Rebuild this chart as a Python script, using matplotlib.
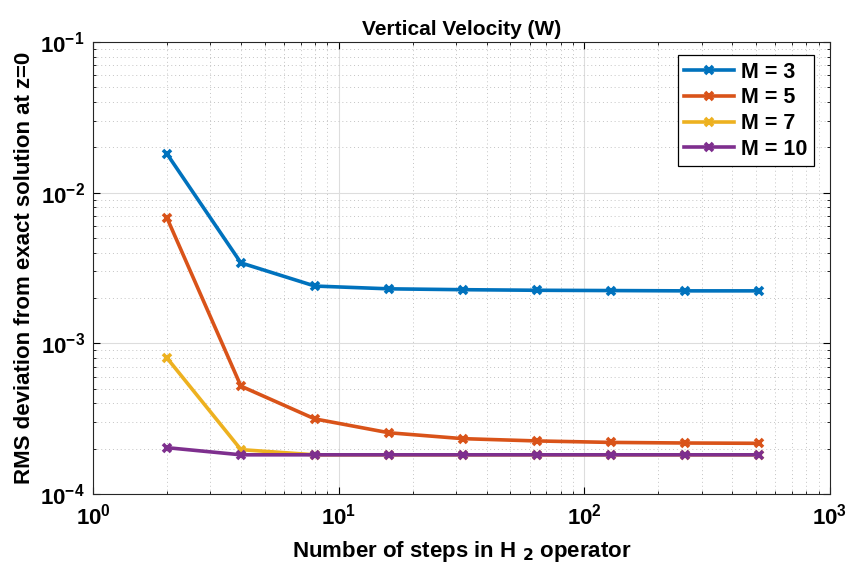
import matplotlib
matplotlib.use("Agg")
import matplotlib.pyplot as plt
from matplotlib.ticker import LogLocator, NullFormatter

plt.rcParams['font.family'] = ['Liberation Sans', 'DejaVu Sans']
plt.rcParams['font.weight'] = 'bold'
plt.rcParams['mathtext.default'] = 'bf'

steps = [2, 4, 8, 16, 32, 64, 128, 256, 512]
rms_m3 = [1.81e-2, 3.42e-3, 2.40e-3, 2.30e-3, 2.27e-3, 2.25e-3, 2.24e-3, 2.23e-3, 2.23e-3]
rms_m5 = [6.8e-3, 5.2e-4, 3.15e-4, 2.55e-4, 2.33e-4, 2.25e-4, 2.2e-4, 2.18e-4, 2.17e-4]
rms_m7 = [8.0e-4, 1.97e-4, 1.82e-4, 1.82e-4, 1.82e-4, 1.82e-4, 1.82e-4, 1.82e-4, 1.82e-4]
rms_m10 = [2.03e-4, 1.82e-4, 1.82e-4, 1.82e-4, 1.82e-4, 1.82e-4, 1.82e-4, 1.82e-4, 1.82e-4]
labels = ['M = 3', 'M = 5', 'M = 7', 'M = 10']
colors = ['#0072BD', '#D95319', '#EDB120', '#7E2F8E']

fig = plt.figure(figsize=(8.5, 5.76), dpi=100)
ax = fig.add_axes([93 / 850, 1 - 494 / 576, 737 / 850, 452 / 576])

for ys, lab, c in zip([rms_m3, rms_m5, rms_m7, rms_m10], labels, colors):
    ax.plot(steps, ys, color=c, lw=2.6, marker='x', ms=6, mew=2.6, label=lab)

ax.set_xscale('log')
ax.set_yscale('log')
ax.set_xlim(1, 1000)
ax.set_ylim(1e-4, 1e-1)
ax.xaxis.set_minor_locator(LogLocator(base=10, subs=range(2, 10), numticks=20))
ax.yaxis.set_minor_locator(LogLocator(base=10, subs=range(2, 10), numticks=20))
ax.xaxis.set_minor_formatter(NullFormatter())
ax.yaxis.set_minor_formatter(NullFormatter())

ax.grid(True, which='major', color='#dddddd', lw=0.8, ls='-')
ax.grid(True, which='minor', color='#c4c4c4', lw=0.7, ls=(0, (1, 3)))
ax.set_axisbelow(True)

ax.tick_params(which='both', direction='in', top=True, right=True, labelsize=16)
ax.tick_params(axis='x', which='major', pad=7)
ax.tick_params(axis='y', which='major', pad=6)
ax.tick_params(which='major', length=5)
ax.tick_params(which='minor', length=2.5)
for s in ax.spines.values():
    s.set_color('#262626')
    s.set_linewidth(0.8)

ax.set_title('Vertical Velocity (W)', fontsize=15, fontweight='bold', pad=5)
ax.set_xlabel('Number of steps in H $_2$ operator', fontsize=16, fontweight='bold', labelpad=7)
ax.set_ylabel('RMS deviation from exact solution at z=0', fontsize=16, fontweight='bold', labelpad=4)

leg = ax.legend(loc='upper right', fontsize=15.5, fancybox=False, framealpha=1,
                edgecolor='black', borderpad=0.3, labelspacing=0.22, handlelength=2.3,
                handletextpad=0.35, borderaxespad=0.3, bbox_to_anchor=(0.987, 0.985))
leg.get_frame().set_linewidth(0.9)

fig.savefig('out.png', dpi=100)
